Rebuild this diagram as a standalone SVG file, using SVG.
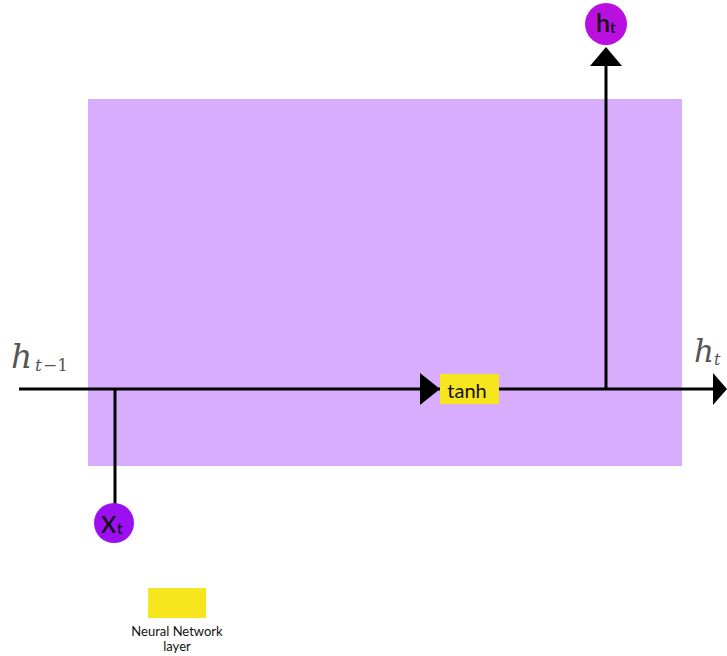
<svg xmlns="http://www.w3.org/2000/svg" width="727" height="656" viewBox="0 0 727 656">
  <defs>
    <style>
      .wire { stroke: #000; stroke-width: 3; fill: none; }
      .head { fill: #000; }
      .sans { font-family: Lato, "Open Sans", "Liberation Sans", sans-serif; fill: #111; }
      .math { font-family: "DejaVu Serif", "Liberation Serif", serif; font-style: italic; fill: #555; }
      .num { font-family: "DejaVu Serif", "Liberation Serif", serif; fill: #555; }
    </style>
  </defs>
  <rect width="727" height="656" fill="#fff"/>

  <!-- cell body -->
  <g id="cell">
    <rect x="88" y="99" width="594" height="367" fill="#d8adfd"/>
  </g>

  <!-- connectors -->
  <g id="connectors">
    <line class="wire" x1="19" y1="389" x2="716" y2="389"/>
    <line class="wire" x1="115" y1="389" x2="115" y2="505"/>
    <line class="wire" x1="606" y1="389" x2="606" y2="64"/>
    <polygon class="head" points="420,373 440,389 420,405"/>
    <polygon class="head" points="713,373 727,389 713,405"/>
    <polygon class="head" points="590,66 606,47 622,66"/>
  </g>

  <!-- tanh layer -->
  <g id="tanh">
    <rect x="440" y="374" width="59" height="30" fill="#f7e51d"/>
    <text class="sans" x="467" y="398" font-size="20" text-anchor="middle">tanh</text>
  </g>

  <!-- input x_t -->
  <g id="xt">
    <circle cx="114" cy="523" r="20" fill="#9c0ff1"/>
    <text class="sans" x="101" y="533" font-size="23" font-weight="600">X</text>
    <text class="sans" x="117" y="534" font-size="15" font-weight="600">t</text>
  </g>

  <!-- output h_t -->
  <g id="ht-out">
    <circle cx="606" cy="24" r="21" fill="#b90fe0"/>
    <text class="sans" x="596" y="32" font-size="25" font-weight="600">h</text>
    <text class="sans" x="610" y="33" font-size="15" font-weight="600">t</text>
  </g>

  <!-- previous hidden state label -->
  <g id="h-prev">
    <text class="math" x="11" y="368" font-size="33">h</text>
    <text class="math" x="35" y="371" font-size="17">t</text>
    <text class="num" x="43" y="371" font-size="17">−1</text>
  </g>

  <!-- next hidden state label -->
  <g id="h-next">
    <text class="math" x="694" y="362" font-size="31">h</text>
    <text class="math" x="714" y="365" font-size="16">t</text>
  </g>

  <!-- legend -->
  <g id="legend">
    <rect x="148" y="588" width="58" height="30" fill="#f7e51d"/>
    <text class="sans" x="177" y="636" font-size="13" text-anchor="middle">Neural Network</text>
    <text class="sans" x="177" y="651" font-size="13" text-anchor="middle">layer</text>
  </g>
</svg>
